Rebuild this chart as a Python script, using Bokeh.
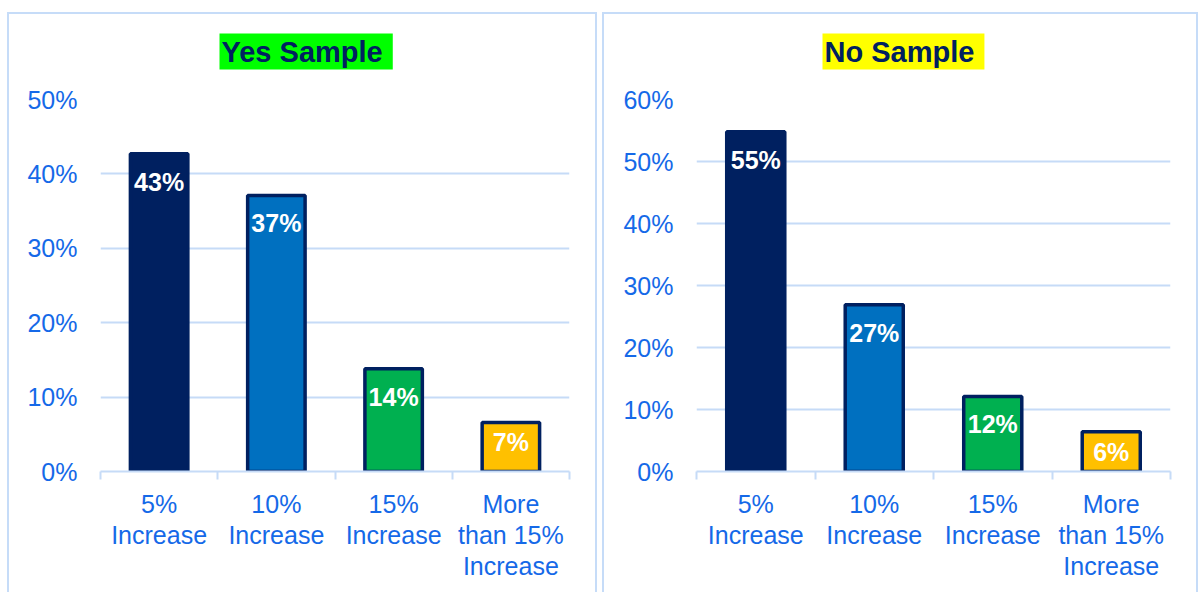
from bokeh.plotting import figure
from bokeh.layouts import row
from bokeh.models import ColumnDataSource, FixedTicker, NumeralTickFormatter, Range1d
from bokeh.core.properties import value
from bokeh.embed import file_html
from bokeh.resources import INLINE

# ---- data ----
categories = ["5%\nIncrease", "10%\nIncrease", "15%\nIncrease", "More\nthan 15%\nIncrease"]
yes_values = [0.427, 0.371, 0.138, 0.066]
no_values = [0.548, 0.269, 0.121, 0.064]
yes_ticks = [0.0, 0.1, 0.2, 0.3, 0.4, 0.5]
no_ticks = [0.0, 0.1, 0.2, 0.3, 0.4, 0.5, 0.6]
bar_colors = ["#002060", "#0070C0", "#00B050", "#FFC000"]
panel_titles = ["Yes Sample ", "No Sample "]
title_backgrounds = ["#00FF00", "#FFFF00"]

FONT = "Liberation Sans"
TICK_COLOR = "#1569E8"
GRID_COLOR = "#C6DBF7"
BORDER = "#C6DCF8"
NAVY = "#002060"


def make_panel(title, title_bg, values, ticks, width, mbl, mbr, margin, title_offset):
    n = len(categories)
    centers = [i + 0.5 for i in range(n)]
    labels = [f"{round(v * 100):d}%" for v in values]
    offsets = [28 if v >= 0.1 else 20 for v in values]
    src = ColumnDataSource(dict(x=centers, top=values, color=bar_colors,
                                label=labels, off=offsets))

    p = figure(width=width, height=592, output_backend="svg", toolbar_location=None,
               x_range=Range1d(0, n), y_range=Range1d(0, ticks[-1]),
               min_border_left=mbl, min_border_right=mbr,
               min_border_top=99, min_border_bottom=121)
    p.margin = margin
    p.styles = {"box-shadow": (f"inset 0 12px 0 0 #FFFFFF, inset 0 14px 0 0 {BORDER}, "
                               f"inset 2px 0 0 0 {BORDER}, inset -2px 0 0 0 {BORDER}")}
    p.border_fill_alpha = 0
    p.background_fill_color = "white"
    p.outline_line_color = None

    p.vbar(x="x", top="top", width=0.49, bottom=0, fill_color="color",
           line_color=NAVY, line_width=3.5, source=src)
    p.text(x="x", y="top", text="label", y_offset="off", text_color="white",
           text_font=value(FONT), text_font_style="bold", text_font_size="25px",
           text_align="center", text_baseline="middle", source=src)

    # title
    p.title.text = title
    p.title.text_font = FONT
    p.title.text_font_size = "29px"
    p.title.text_font_style = "bold"
    p.title.text_color = NAVY
    p.title.background_fill_color = title_bg
    p.title.align = "left"
    p.title.offset = title_offset
    p.title.standoff = 60
    p.title.padding = 2

    # x axis
    xa = p.xaxis[0]
    xa.ticker = FixedTicker(ticks=centers, minor_ticks=list(range(n + 1)))
    xa.major_label_overrides = {c: lab for c, lab in zip(centers, categories)}
    xa.major_tick_line_color = None
    xa.major_tick_out = 0
    xa.major_tick_in = 0
    xa.minor_tick_line_color = GRID_COLOR
    xa.minor_tick_line_width = 2
    xa.minor_tick_out = 8
    xa.minor_tick_in = 0
    xa.axis_line_color = GRID_COLOR
    xa.axis_line_width = 2
    xa.major_label_text_font = FONT
    xa.major_label_text_font_size = "25px"
    xa.major_label_text_color = TICK_COLOR
    xa.major_label_text_line_height = 1.12
    xa.major_label_standoff = 10
    xa.major_label_orientation = "horizontal"

    # y axis
    ya = p.yaxis[0]
    ya.ticker = FixedTicker(ticks=ticks)
    ya.formatter = NumeralTickFormatter(format="0%")
    ya.axis_line_color = None
    ya.major_tick_line_color = None
    ya.minor_tick_line_color = None
    ya.major_tick_out = 0
    ya.major_label_standoff = 23
    ya.major_label_text_font = FONT
    ya.major_label_text_font_size = "25px"
    ya.major_label_text_color = TICK_COLOR

    p.xgrid.visible = False
    p.ygrid.grid_line_color = GRID_COLOR
    p.ygrid.grid_line_width = 2
    return p


p1 = make_panel(panel_titles[0], title_backgrounds[0], yes_values, yes_ticks,
                590, 93, 28, (0, 0, 0, 7), 119)
p2 = make_panel(panel_titles[1], title_backgrounds[1], no_values, no_ticks,
                596, 94, 28, (0, 0, 0, 5), 126)

layout = row(p1, p2)
open("out.html", "w").write(file_html(layout, INLINE))
